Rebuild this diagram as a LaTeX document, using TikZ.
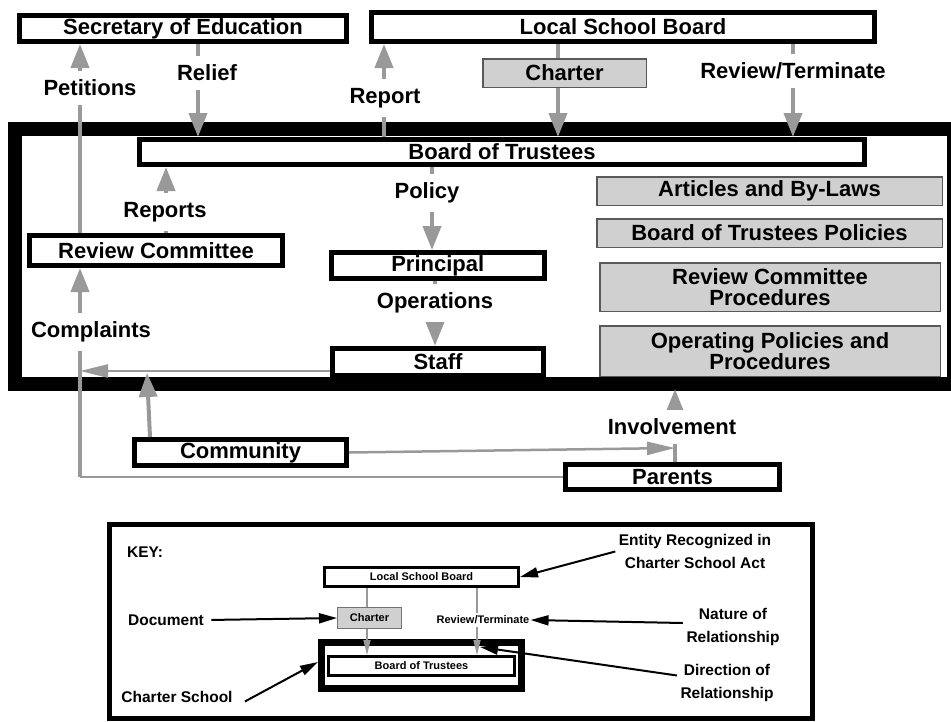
\documentclass[tikz,border=0pt]{standalone}
\usepackage{fontspec}
\setmainfont{Liberation Sans}
\usepackage{xcolor}
\usetikzlibrary{arrows.meta}
\usetikzlibrary{calc}
\definecolor{linkgray}{RGB}{153,153,153}
\definecolor{docgray}{RGB}{208,208,208}
\newcommand{\bigtxt}{\fontsize{22}{21}\selectfont\bfseries}
\newcommand{\keytxt}{\fontsize{15.5}{23}\selectfont\bfseries}
\newcommand{\smalltxt}{\fontsize{11}{12}\selectfont\bfseries}
\begin{document}
\begin{tikzpicture}[x=1pt,y=-1pt,
  dims/.style 2 args={minimum width=#1pt,minimum height=#2pt},
  entity/.style={draw=black,line width=5pt,fill=white,inner sep=0pt,font=\bigtxt},
  doc/.style={draw=black!65,line width=1.5pt,fill=docgray,inner sep=0pt,align=center,font=\bigtxt},
  flow/.style={draw=linkgray,line width=4pt,-{Triangle[width=18pt,length=24pt]}},
  thinflow/.style={draw=linkgray,line width=2.5pt,-{Triangle[width=13pt,length=28pt]}},
  thinlink/.style={draw=linkgray,line width=2.5pt},
  lbl/.style={fill=white,inner xsep=1pt,inner ysep=9pt,font=\bigtxt},
  kentity/.style={draw=black,line width=3pt,fill=white,inner sep=0pt,font=\smalltxt},
  kdoc/.style={draw=black!55,line width=1pt,fill=docgray,inner sep=0pt,font=\smalltxt},
  kflow/.style={draw=linkgray,line width=1.5pt,-{Triangle[width=7pt,length=15pt]}},
  pointer/.style={draw=black,line width=2pt,-{Triangle[width=10pt,length=18pt]}}]
\useasboundingbox (0,0) rectangle (951,721);
\clip (0,0) rectangle (951,721);
% Drawing the charter school frame
\draw[line width=14pt] (15,129) rectangle (954,384);
% Drawing entities
\node[entity,dims={327}{26}] (secretary) at (183,28.5) {Secretary of Education};
\node[entity,dims={503}{29}] (lsb) at (623,27) {Local School Board};
\node[entity,dims={725}{25}] (trustees) at (502,152) {Board of Trustees};
\node[entity,dims={252.5}{30}] (review) at (156,250.5) {Review Committee};
\node[entity,dims={212.5}{26}] (principal) at (437.75,265.5) {Principal};
\node[entity,dims={211.5}{27.5}] (staff) at (438,362) {Staff};
\node[entity,dims={212}{26}] (community) at (240.5,452.5) {Community};
\node[entity,dims={214}{25}] (parents) at (672.5,477) {Parents};
% Drawing documents
\node[doc,dims={345.5}{28.5}] (articles) at (769.5,191) {Articles and By-Laws};
\node[doc,dims={345.5}{28.5}] (policies) at (769.5,233) {Board of Trustees Policies};
\node[doc,dims={340.5}{48.5}] (rcproc) at (770,287) {Review Committee\\Procedures};
\node[doc,dims={340.5}{50.5}] (opproc) at (770,351) {Operating Policies and\\Procedures};
% Drawing relationships
\coordinate (xpet) at (80,0);
\coordinate (xrel) at (198,0);
\coordinate (xrep) at (384,0);
\coordinate (xcha) at (558,0);
\coordinate (xrev) at (793,0);
\coordinate (xrpt) at (166,0);
\coordinate (xpol) at (432,0);
\coordinate (xops) at (435,0);
\coordinate (xcom) at (150,0);
\coordinate (xinv) at (675,0);
\coordinate (corner) at (80,477);
\coordinate (staffend) at (80,371);
\coordinate (commend) at (147,373);
\coordinate (involve) at (675,448);
\coordinate (invtip) at (675,389);
\draw[flow] (review.north -| xpet) -- (secretary.south -| xpet);
\draw[flow] (secretary.south -| xrel) -- (trustees.north -| xrel);
\draw[flow] (trustees.north -| xrep) -- (lsb.south -| xrep);
\draw[flow] (lsb.south -| xcha) -- (trustees.north -| xcha);
\draw[flow] (lsb.south -| xrev) -- (trustees.north -| xrev);
\draw[flow] (review.north -| xrpt) -- (trustees.south -| xrpt);
\draw[flow] (trustees.south -| xpol) -- (principal.north -| xpol);
\draw[flow] (principal.south -| xops) -- (staff.north -| xops);
\draw[thinlink] (parents.west |- corner) -- (corner);
\draw[flow] (corner) -- (review.south -| corner);
\draw[thinflow] (staff.west |- staffend) -- (staffend);
\draw[flow] (community.north -| xcom) -- (commend);
\draw[flow] (parents.north -| xinv) -- (invtip);
\node[doc,dims={163.5}{28.5}] (charter) at (564.5,73) {Charter};
% Drawing relationship names
\node[lbl] (petitions) at (90,88) {Petitions};
\node[lbl] (relief) at (207,73) {Relief};
\node[lbl] (report) at (385,98) {Report};
\node[lbl] (revterm) at (793,71) {Review/Terminate};
\node[lbl] (reports) at (165,212) {Reports};
\node[lbl] (policy) at (427,193) {Policy};
\node[lbl] (operations) at (435,303) {Operations};
\node[lbl] (complaints) at (91,332) {Complaints};
\node[lbl] (involvement) at (672,427) {Involvement};
\draw[thinflow] (community.east) -- (involve);
% Drawing the key
\node[draw,line width=5pt,dims={703}{194}] (keybox) at (461,621.5) {};
\node[font=\keytxt] (keytitle) at (145,552) {KEY:};
\node[draw,line width=7pt,dims={200}{46}] (kframe) at (421.5,665.5) {};
\node[kentity,dims={194}{19}] (klsb) at (421.5,577) {Local School Board};
\node[kentity,dims={186}{19}] (ktrustees) at (421.5,666) {Board of Trustees};
\coordinate (kxcha) at (367,0);
\coordinate (kxrev) at (477,0);
\draw[kflow] (klsb.south -| kxcha) -- (ktrustees.north -| kxcha);
\draw[kflow] (klsb.south -| kxrev) -- (ktrustees.north -| kxrev);
\node[kdoc,dims={64}{21}] (kcharter) at (369.5,618) {Charter};
\node[fill=white,inner xsep=1pt,inner ysep=3pt,font=\smalltxt] (krevterm) at (483,620) {Review/Terminate};
% Drawing the key texts
\node[font=\keytxt] (kdocument) at (166,620) {Document};
\node[font=\keytxt] (kschool) at (177,697) {Charter School};
\node[font=\keytxt,align=center] (kentitylbl) at (695,551.5) {Entity Recognized in\\Charter School Act};
\node[font=\keytxt,align=center] (knature) at (733,627) {Nature of\\Relationship};
\node[font=\keytxt,align=center] (kdirection) at (727,682.5) {Direction of\\Relationship};
\draw[pointer,shorten <=4pt] (kdocument.east) -- (kcharter.west);
\draw[pointer,shorten <=10pt] (kschool.south east) -- (kframe.west |- 0,662);
\draw[pointer] (kentitylbl.west) -- (klsb.east);
\draw[pointer] ($(knature.west)+(0,-4)$) -- (krevterm.east);
\draw[pointer] ($(kdirection.west)+(0,-7)$) -- ($(ktrustees.north -| kxrev)+(3,-8)$);
\end{tikzpicture}
\end{document}
